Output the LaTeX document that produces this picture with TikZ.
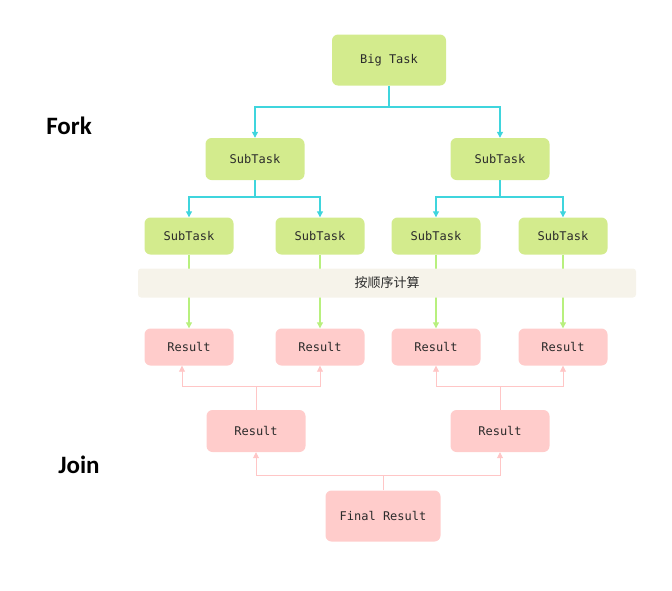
\documentclass[tikz,border=0pt]{standalone}
\usepackage{fontspec}
\setmonofont{DejaVu Sans Mono}
\setsansfont{Carlito}
\newfontfamily\cjk{Noto Sans CJK SC}
\usetikzlibrary{arrows.meta}

\definecolor{taskgreen}{HTML}{D3EB8D}
\definecolor{resultpink}{HTML}{FFCCCB}
\definecolor{forkcyan}{HTML}{3FD5DD}
\definecolor{calcgreen}{HTML}{B8F07E}
\definecolor{joinpink}{HTML}{FFC6C6}
\definecolor{bandbeige}{HTML}{F6F3EA}
\definecolor{boxtext}{HTML}{2B2B2B}

\begin{document}
\begin{tikzpicture}
[x=1pt, y=-1pt,
ar/.style={-{Triangle[width=6pt,length=6pt]}, line width=1.1pt},
mynode/.style={
  rounded corners=6pt, inner sep=0pt, text=boxtext,
  font=\ttfamily\fontsize{12}{14}\selectfont,
  align=center
  }
]

\tikzstyle{bignode}  =  [mynode, fill=taskgreen, minimum width=114pt, minimum height=51pt]
\tikzstyle{subnode}  =  [mynode, fill=taskgreen, minimum width=99pt, minimum height=42pt]
\tikzstyle{leafnode}  =  [mynode, fill=taskgreen, minimum width=89pt, minimum height=37pt]
\tikzstyle{resnode}  =  [mynode, fill=resultpink, minimum width=89pt, minimum height=37pt]
\tikzstyle{midnode}  =  [mynode, fill=resultpink, minimum width=99pt, minimum height=42pt]
\tikzstyle{finalnode}  =  [mynode, fill=resultpink, minimum width=115pt, minimum height=51pt]
\tikzstyle{phase}  =  [font=\sffamily\bfseries\fontsize{25}{29}\selectfont]
\tikzstyle{pinkline}  =  [joinpink, line width=0.9pt]

\useasboundingbox (0,0) rectangle (672,590);

\node[phase] (fork) at (69,126) {Fork};
\node[phase] (join) at (79,465) {Join};

% fork
\node[bignode] (big) at (389,60) {Big Task};
\node[subnode] (s1) at (255,159) {SubTask};
\node[subnode] (s2) at (500,159) {SubTask};
\node[leafnode] (t1) at (189,236) {SubTask};
\node[leafnode] (t2) at (320,236) {SubTask};
\node[leafnode] (t3) at (436,236) {SubTask};
\node[leafnode] (t4) at (563,236) {SubTask};

% join
\node[resnode] (r1) at (189,347) {Result};
\node[resnode] (r2) at (320,347) {Result};
\node[resnode] (r3) at (436,347) {Result};
\node[resnode] (r4) at (563,347) {Result};
\node[midnode] (m1) at (256,431) {Result};
\node[midnode] (m2) at (500,431) {Result};
\node[finalnode] (final) at (383,516) {Final Result};

\coordinate (f0) at (389,107);
\coordinate (f1) at (255,197);
\coordinate (f2) at (500,197);
\coordinate (j1) at (256,386);
\coordinate (j2) at (500,386);
\coordinate (j0) at (383,475);

%edges

\draw[forkcyan, line width=1.1pt] (big) -- (f0);
\draw[forkcyan, ar] (f0) -| (s1);
\draw[forkcyan, ar] (f0) -| (s2);
\draw[forkcyan, line width=1.1pt] (s1) -- (f1);
\draw[forkcyan, ar] (f1) -| (t1);
\draw[forkcyan, ar] (f1) -| (t2);
\draw[forkcyan, line width=1.1pt] (s2) -- (f2);
\draw[forkcyan, ar] (f2) -| (t3);
\draw[forkcyan, ar] (f2) -| (t4);

\foreach \i in {1,2,3,4}
  \draw[calcgreen, ar] (t\i) -- (r\i);

\draw[pinkline] (m1) -- (j1);
\draw[pinkline, ar, line width=0.9pt] (j1) -| ([xshift=-7pt]r1.south);
\draw[pinkline, ar, line width=0.9pt] (j1) -| (r2);
\draw[pinkline] (m2) -- (j2);
\draw[pinkline, ar, line width=0.9pt] (j2) -| (r3);
\draw[pinkline, ar, line width=0.9pt] (j2) -| (r4);
\draw[pinkline] (final) -- (j0);
\draw[pinkline, ar, line width=0.9pt] (j0) -| (m1);
\draw[pinkline, ar, line width=0.9pt] (j0) -| (m2);

% band over the arrows
\node[fill=bandbeige, rounded corners=3pt, minimum width=498pt, minimum height=29pt,
  inner sep=0pt, text=boxtext, font=\cjk\fontsize{13}{15}\selectfont] (calc) at (387,283) {按顺序计算};

\end{tikzpicture}
\end{document}
